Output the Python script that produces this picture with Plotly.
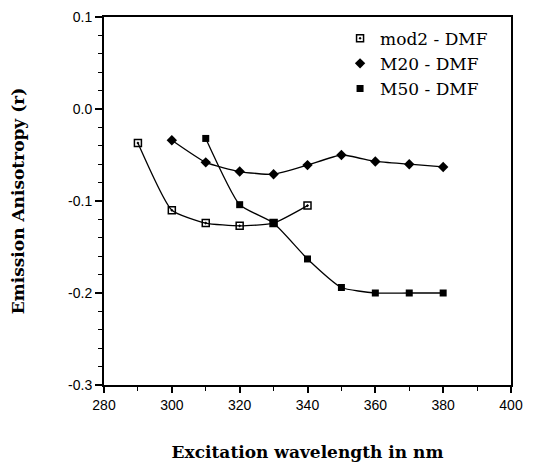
import plotly.graph_objects as go

mod2_x = [290, 300, 310, 320, 330, 340]
mod2_y = [-0.037, -0.110, -0.124, -0.127, -0.124, -0.105]
m20_x = [300, 310, 320, 330, 340, 350, 360, 370, 380]
m20_y = [-0.034, -0.058, -0.068, -0.071, -0.061, -0.050, -0.057, -0.060, -0.063]
m50_x = [310, 320, 330, 340, 350, 360, 370, 380]
m50_y = [-0.032, -0.104, -0.124, -0.163, -0.194, -0.200, -0.200, -0.200]

names = ["mod2 - DMF", "M20 - DMF", "M50 - DMF"]
x_ticks = [280, 300, 320, 340, 360, 380, 400]
y_ticks = [-0.3, -0.2, -0.1, 0.0, 0.1]

markers = [
    dict(symbol="square-open-dot", size=7, color="black", line=dict(width=1.5, color="black")),
    dict(symbol="diamond", size=8, color="black"),
    dict(symbol="square", size=7, color="black"),
]

fig = go.Figure()
common_line = dict(color="black", width=1.3, shape="spline", smoothing=0.5)
for xs, ys, nm, mk in zip([mod2_x, m20_x, m50_x], [mod2_y, m20_y, m50_y], names, markers):
    fig.add_trace(go.Scatter(x=xs, y=ys, mode="lines+markers", name=nm,
                             line=common_line, marker=mk, showlegend=False))
# legend entries show markers only
for nm, mk in zip(names, markers):
    fig.add_trace(go.Scatter(x=[None], y=[None], mode="markers", name=nm, marker=mk))

fig.update_layout(
    width=537, height=462,
    margin=dict(l=104, r=26, t=17, b=77),
    paper_bgcolor="white", plot_bgcolor="white",
    showlegend=True,
    legend=dict(x=0.58, y=0.99, xanchor="left", yanchor="top",
                font=dict(family="DejaVu Serif", size=17, color="black"),
                bgcolor="rgba(0,0,0,0)", tracegroupgap=0, itemwidth=30),
    font=dict(family="Liberation Sans", color="black"),
)
fig.update_xaxes(range=[280, 400], tickvals=x_ticks, ticktext=[str(v) for v in x_ticks],
                 ticks="outside", ticklen=6, tickwidth=1.5, tickcolor="black",
                 minor=dict(dtick=10, ticks="outside", ticklen=4, tickwidth=1.2, tickcolor="black"),
                 showline=True, linecolor="black", linewidth=2, mirror=True,
                 showgrid=False, zeroline=False, automargin=False,
                 tickfont=dict(family="Liberation Sans", size=14, color="black"),
                 title=dict(text="<b>Excitation wavelength in nm</b>", standoff=36,
                            font=dict(family="DejaVu Serif", size=17, color="black")))
fig.update_yaxes(range=[-0.3, 0.1], tickvals=y_ticks, ticktext=["-0.3", "-0.2", "-0.1", "0.0", "0.1"],
                 ticks="outside", ticklen=7, tickwidth=1.5, tickcolor="black",
                 minor=dict(dtick=0.02, ticks="outside", ticklen=4, tickwidth=1.2, tickcolor="black"),
                 showline=True, linecolor="black", linewidth=2, mirror=True,
                 showgrid=False, zeroline=False, automargin=False,
                 tickfont=dict(family="Liberation Sans", size=14, color="black"),
                 title=dict(text="<b>Emission Anisotropy (r)</b>", standoff=39,
                            font=dict(family="DejaVu Serif", size=17, color="black")))

fig.write_html("out.html")
